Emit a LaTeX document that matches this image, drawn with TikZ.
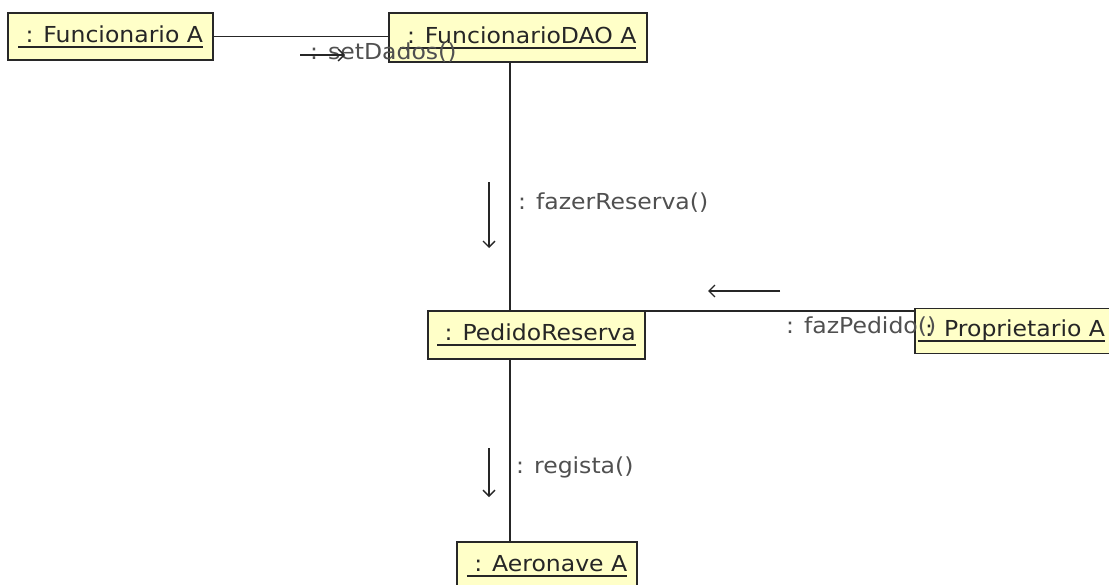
\documentclass[tikz,border=0pt]{standalone}
\usepackage{fontspec}
\usetikzlibrary{arrows.meta}
\newfontfamily\umlfont[FakeStretch=1.07]{DejaVu Sans}
\definecolor{objfill}{RGB}{255,255,200}
\definecolor{objline}{RGB}{40,40,40}
\definecolor{msgtext}{RGB}{80,80,80}
% underlined object name, rule a little below the baseline
\newcommand\objname[1]{\setbox0\hbox{#1}\rlap{\rule[-5.5pt]{\wd0}{1.8pt}}\box0}
\tikzset{
  obj/.style={draw=objline, line width=1.8pt, fill=objfill, inner sep=0pt,
    font=\umlfont\fontsize{22pt}{26pt}\selectfont, text=black!85},
  link/.style={draw=black!85, line width=1.7pt},
  msgarrow/.style={draw=black!85, line width=1.3pt, -{Straight Barb[length=6pt,width=12pt]}},
  msglabel/.style={anchor=base west, inner sep=0pt, text=msgtext,
    font=\umlfont\fontsize{22pt}{26pt}\selectfont}
}
\begin{document}
\begin{tikzpicture}[x=1pt,y=-1pt]
\fill[white] (0,0) rectangle (1109,584);
\useasboundingbox (0,0) rectangle (1109,584);

% object boxes
\node[obj, minimum width=205pt, minimum height=47pt] (fa) at (110.5,36.5) {\objname{\ : Funcionario A}};
\node[obj, minimum width=258pt, minimum height=49pt] (dao) at (518,37.5) {\objname{\ : FuncionarioDAO A}};
\node[obj, minimum width=217pt, minimum height=48pt] (ped) at (536.5,335) {\objname{\ : PedidoReserva}};
\node[obj, minimum width=180pt, minimum height=48pt] (aer) at (547,566) {\objname{\ : Aeronave A}};
\node[obj, anchor=west, minimum height=45pt, text width=215pt, align=left, inner xsep=3pt]
  (prop) at (914,331) {\objname{\ : Proprietario A}};
\coordinate (j) at (510,311);
\coordinate (k) at (510,0);

% links between objects
\draw[link] (fa.east) -- (fa.east -| dao.west);
\draw[link] (dao.south -| k) -- (j);
\draw[link] (ped.south -| k) -- (aer.north -| k);
\draw[link] (j) -- (j -| prop.west);

% message labels
\node[msglabel] (m1) at (310,59) {: setDados()};
\node[msglabel] (m2) at (518,209) {: fazerReserva()};
\node[msglabel] (m3) at (786,333) {: fazPedido()};
\node[msglabel] (m4) at (516,473) {: regista()};

% message direction arrows
\coordinate (a1s) at (300,55); \coordinate (a1e) at (345,55);
\coordinate (a2s) at (489,182); \coordinate (a2e) at (489,248);
\coordinate (a3s) at (780,291); \coordinate (a3e) at (708,291);
\coordinate (a4s) at (489,448); \coordinate (a4e) at (489,497);
\draw[msgarrow] (a1s) -- (a1e);
\draw[msgarrow] (a2s) -- (a2e);
\draw[msgarrow] (a3s) -- (a3e);
\draw[msgarrow] (a4s) -- (a4e);
\end{tikzpicture}
\end{document}
